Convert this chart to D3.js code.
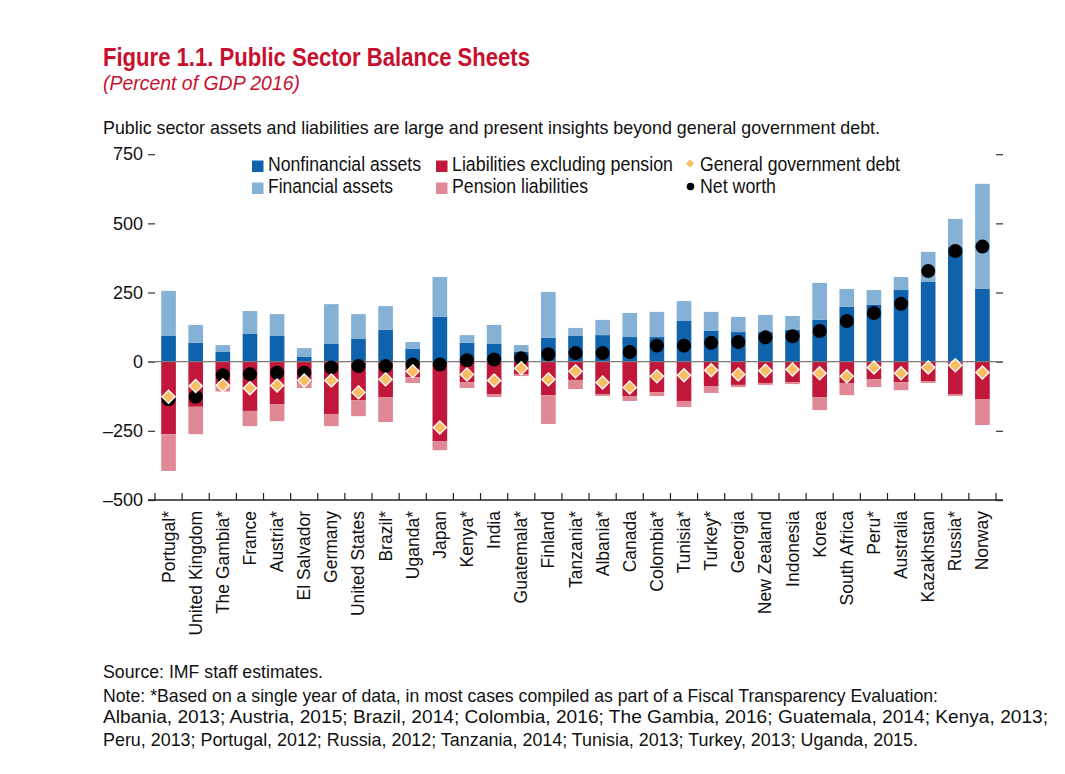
<!DOCTYPE html>
<html>
<head>
<meta charset="utf-8">
<script src="https://cdn.jsdelivr.net/npm/d3@7"></script>
<style>
  body { margin: 0; background: #fff; }
  svg { display: block; }
  .cond { font-family: "Liberation Sans", Arial, Helvetica, sans-serif; }
</style>
</head>
<body>
<div id="chart"></div>
<script>
// Chart data (percent of GDP 2016)
const countries = ['Portugal*', 'United Kingdom', 'The Gambia*', 'France', 'Austria*', 'El Salvador',
    'Germany', 'United States', 'Brazil*', 'Uganda*', 'Japan', 'Kenya*', 'India', 'Guatemala*',
    'Finland', 'Tanzania*', 'Albania*', 'Canada', 'Colombia*', 'Tunisia*', 'Turkey*', 'Georgia',
    'New Zealand', 'Indonesia', 'Korea', 'South Africa', 'Peru*', 'Australia', 'Kazakhstan',
    'Russia*', 'Norway'];
const nonfinancialAssets = [93, 68, 35, 100, 93, 17, 64, 82, 115, 46, 162, 68, 64, 35, 86, 93, 96, 89,
    89, 147, 111, 107, 107, 115, 151, 198, 205, 259, 288, 414, 263];
const financialAssets = [163, 65, 25, 83, 79, 32, 144, 90, 86, 25, 144, 28, 69, 25, 166, 29, 55, 87,
    91, 72, 69, 55, 62, 50, 134, 65, 54, 47, 109, 102, 380];
const liabilitiesExPension = [-262, -163, -88, -178, -153, -76, -189, -139, -128, -56, -287, -74, -117,
    -45, -121, -66, -117, -124, -110, -142, -88, -84, -77, -74, -128, -77, -63, -74, -70, -117, -135];
const pensionLiabilities = [-133, -99, -20, -55, -62, -19, -44, -58, -90, -21, -33, -21, -11, -7, -104,
    -33, -7, -18, -14, -22, -25, -8, -7, -7, -47, -44, -29, -29, -7, -7, -94];
const govDebt = [-127, -88, -85, -96, -86, -68, -68, -111, -64, -35, -238, -46, -68, -24, -64, -35, -75,
    -93, -53, -49, -31, -46, -33, -28, -42, -53, -21, -42, -21, -13, -39];
const netWorth = [-136, -127, -49, -45, -40, -40, -21, -16, -16, -10, -10, 5, 8, 12, 27, 31, 31, 35, 58,
    58, 68, 71, 88, 92, 111, 147, 176, 209, 328, 400, 416];
const yTicks = [750, 500, 250, 0, -250, -500];

const colors = {
    nonfin: '#0f62ac',
    fin: '#86b1d6',
    liab: '#c0173a',
    pension: '#e08896',
    debt: '#fbbd62',
    net: '#000'
};
const red = '#c8102e';

const width = 1065, height = 774;
const plot = { left: 155, right: 996, top: 154.2, bottom: 500 };

const svg = d3.select('#chart').append('svg')
    .attr('width', width)
    .attr('height', height);

// Headings (condensed look: Arial-metric font squeezed to the reference widths)
svg.append('text').attr('class', 'cond')
    .attr('x', 103).attr('y', 66)
    .attr('fill', red).attr('font-size', 26).attr('font-weight', 'bold')
    .attr('textLength', 427).attr('lengthAdjust', 'spacingAndGlyphs')
    .text('Figure 1.1. Public Sector Balance Sheets');
svg.append('text').attr('class', 'cond')
    .attr('x', 103).attr('y', 90)
    .attr('fill', red).attr('font-size', 19.5).attr('font-style', 'italic')
    .attr('textLength', 197).attr('lengthAdjust', 'spacingAndGlyphs')
    .text('(Percent of GDP 2016)');
svg.append('text').attr('class', 'cond')
    .attr('x', 103).attr('y', 133.5)
    .attr('fill', '#111').attr('font-size', 18.5)
    .attr('textLength', 777).attr('lengthAdjust', 'spacingAndGlyphs')
    .text('Public sector assets and liabilities are large and present insights beyond general government debt.');

// Scales
const x = d3.scaleBand()
    .domain(countries)
    .range([plot.left, plot.right])
    .paddingInner(0.46)
    .paddingOuter(0.23);
const y = d3.scaleLinear()
    .domain([-500, 750])
    .range([plot.bottom, plot.top]);
const step = x.step();

// Y ticks left & right
const yAxisL = d3.axisLeft(y).tickValues(yTicks).tickSize(7).tickPadding(5)
    .tickFormat(d => d < 0 ? '\u2013' + Math.abs(d) : d);
const gL = svg.append('g').attr('transform', `translate(${plot.left},0)`).call(yAxisL);
gL.select('.domain').remove();
gL.selectAll('line').attr('stroke', '#444').attr('stroke-width', 1.3);
gL.selectAll('text').attr('class', 'cond').attr('font-size', 18).attr('fill', '#111');

const yAxisR = d3.axisRight(y).tickValues(yTicks).tickSize(7).tickFormat('');
const gR = svg.append('g').attr('transform', `translate(${plot.right},0)`).call(yAxisR);
gR.select('.domain').remove();
gR.selectAll('line').attr('stroke', '#444').attr('stroke-width', 1.3);

// Bars
const rows = countries.map((c, i) => ({
    c,
    segs: [
        { y0: 0, y1: nonfinancialAssets[i], color: colors.nonfin },
        { y0: nonfinancialAssets[i], y1: nonfinancialAssets[i] + financialAssets[i], color: colors.fin },
        { y0: 0, y1: liabilitiesExPension[i], color: colors.liab },
        { y0: liabilitiesExPension[i], y1: liabilitiesExPension[i] + pensionLiabilities[i], color: colors.pension }
    ]
}));

const barGroups = svg.append('g').selectAll('g')
    .data(rows).join('g')
    .attr('transform', d => `translate(${x(d.c)},0)`);
barGroups.selectAll('rect')
    .data(d => d.segs).join('rect')
    .attr('x', 0)
    .attr('width', x.bandwidth())
    .attr('y', s => y(Math.max(s.y0, s.y1)))
    .attr('height', s => Math.abs(y(s.y0) - y(s.y1)))
    .attr('fill', s => s.color);

// Zero line
svg.append('line')
    .attr('x1', plot.left - 7).attr('x2', plot.right + 7)
    .attr('y1', y(0)).attr('y2', y(0))
    .attr('stroke', '#7a7a7a').attr('stroke-width', 1.3);

// Bottom axis with ticks at category boundaries
svg.append('line')
    .attr('x1', plot.left - 7).attr('x2', plot.right + 7)
    .attr('y1', plot.bottom).attr('y2', plot.bottom)
    .attr('stroke', '#222').attr('stroke-width', 1.5);
svg.append('g').selectAll('line')
    .data(d3.range(countries.length + 1)).join('line')
    .attr('x1', i => plot.left + i * step).attr('x2', i => plot.left + i * step)
    .attr('y1', plot.bottom).attr('y2', plot.bottom - 7)
    .attr('stroke', '#222').attr('stroke-width', 1.2);

// Country labels
svg.append('g').selectAll('text')
    .data(countries).join('text')
    .attr('transform', d => `translate(${x(d) + x.bandwidth() / 2 + 6},${plot.bottom + 11}) rotate(-90)`)
    .attr('text-anchor', 'end')
    .attr('font-family', '"Liberation Sans", Arial, sans-serif')
    .attr('font-size', 17.5)
    .attr('fill', '#111')
    .text(d => d);

// Net worth dots
svg.append('g').selectAll('circle')
    .data(countries).join('circle')
    .attr('cx', d => x(d) + x.bandwidth() / 2)
    .attr('cy', (d, i) => y(netWorth[i]))
    .attr('r', 7)
    .attr('fill', colors.net);

// General government debt diamonds
const diamond = d3.symbol().type(d3.symbolDiamond2).size(110);
svg.append('g').selectAll('path')
    .data(countries).join('path')
    .attr('transform', (d, i) => `translate(${x(d) + x.bandwidth() / 2},${y(govDebt[i])})`)
    .attr('d', diamond)
    .attr('fill', colors.debt)
    .attr('stroke', '#fff')
    .attr('stroke-width', 1.3);

// Legend
const legendItems = [
    { label: 'Nonfinancial assets', type: 'rect', color: colors.nonfin, x: 252, y: 166, w: 153 },
    { label: 'Financial assets', type: 'rect', color: colors.fin, x: 252, y: 188, w: 125 },
    { label: 'Liabilities excluding pension', type: 'rect', color: colors.liab, x: 436, y: 166, w: 221 },
    { label: 'Pension liabilities', type: 'rect', color: colors.pension, x: 436, y: 188, w: 136 },
    { label: 'General government debt', type: 'diamond', color: colors.debt, x: 684, y: 166, w: 200 },
    { label: 'Net worth', type: 'dot', color: colors.net, x: 684, y: 188, w: 76 }
];
const legend = svg.append('g');
legendItems.forEach(item => {
    const g = legend.append('g').attr('transform', `translate(${item.x},${item.y})`);
    if (item.type === 'rect') {
        g.append('rect').attr('x', 0).attr('y', -5.5).attr('width', 11.5).attr('height', 11.5)
            .attr('fill', item.color);
    } else if (item.type === 'diamond') {
        g.append('path').attr('transform', 'translate(6,-2.5)')
            .attr('d', d3.symbol().type(d3.symbolDiamond2).size(40))
            .attr('fill', item.color);
    } else {
        g.append('circle').attr('cx', 6.5).attr('cy', -1.5).attr('r', 3.8).attr('fill', item.color);
    }
    g.append('text').attr('class', 'cond')
        .attr('x', 16)
        .attr('y', 5)
        .attr('font-size', 20.5)
        .attr('fill', '#111')
        .attr('textLength', item.w).attr('lengthAdjust', 'spacingAndGlyphs')
        .text(item.label);
});

// Footnotes
const notes = [
    { t: 'Source: IMF staff estimates.', y: 678, w: 220 },
    { t: 'Note: *Based on a single year of data, in most cases compiled as part of a Fiscal Transparency Evaluation:', y: 701.5, w: 835 },
    { t: 'Albania, 2013; Austria, 2015; Brazil, 2014; Colombia, 2016; The Gambia, 2016; Guatemala, 2014; Kenya, 2013;', y: 723, w: 945 },
    { t: 'Peru, 2013; Portugal, 2012; Russia, 2012; Tanzania, 2014; Tunisia, 2013; Turkey, 2013; Uganda, 2015.', y: 745.5, w: 815 }
];
svg.append('g').selectAll('text')
    .data(notes).join('text')
    .attr('class', 'cond')
    .attr('x', 103)
    .attr('y', d => d.y)
    .attr('font-size', 17.7)
    .attr('fill', '#111')
    .attr('textLength', d => d.w)
    .attr('lengthAdjust', 'spacingAndGlyphs')
    .text(d => d.t);
</script>
</body>
</html>
